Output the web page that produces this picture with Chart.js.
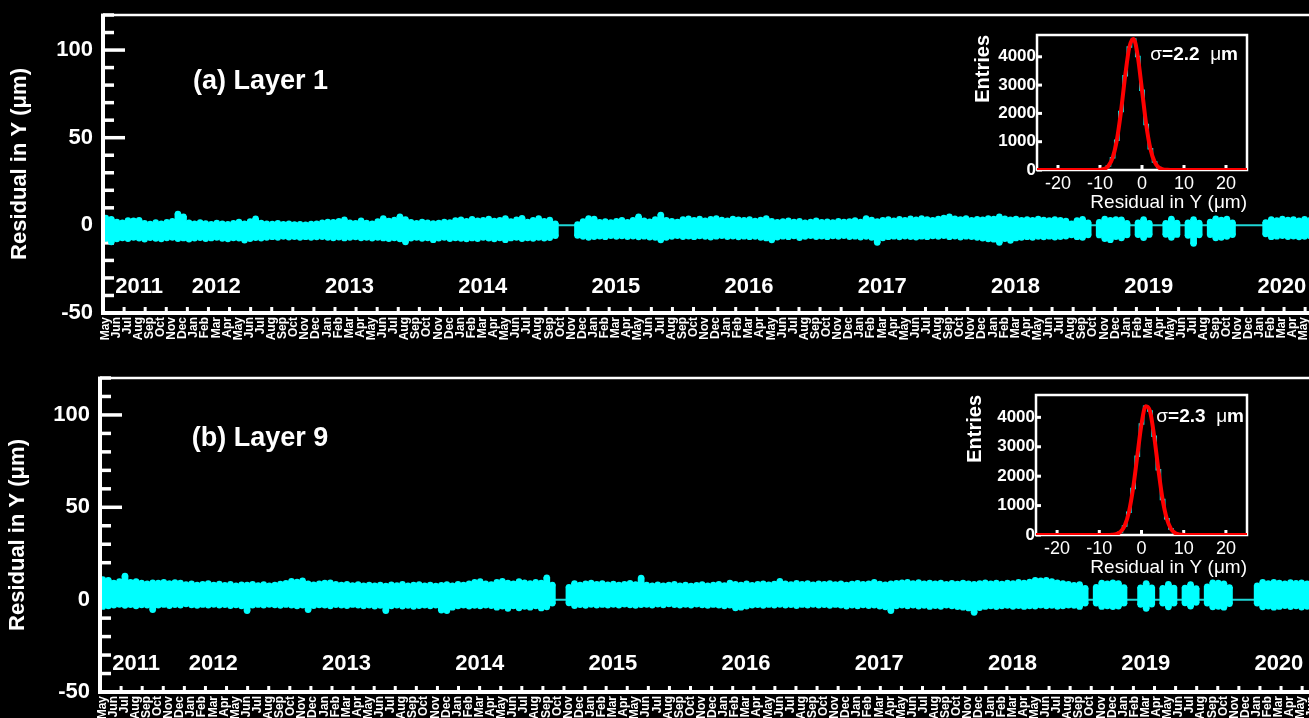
<!DOCTYPE html>
<html>
<head>
<meta charset="utf-8">
<script src="https://cdn.jsdelivr.net/npm/chart.js@4/dist/chart.umd.min.js"></script>
<style>
  html, body { margin: 0; padding: 0; background: #000; width: 1309px; height: 718px; overflow: hidden; position: relative; }
  canvas { position: absolute; }
</style>
</head>
<body>
<canvas id="mainA" width="1328" height="350" style="left:0;top:0"></canvas>
<canvas id="mainB" width="1325" height="370" style="left:0;top:363px"></canvas>
<canvas id="histA" width="300" height="200" style="left:950px;top:20px"></canvas>
<canvas id="histB" width="300" height="205" style="left:950px;top:380px"></canvas>
<script>
const FONT = "'Liberation Sans', Arial, Helvetica, sans-serif";
const CYAN = '#00ffff';

// ---- time axis: one slot per calendar month, first slot = May 2011 ----
const monthNames = ['Jan','Feb','Mar','Apr','May','Jun','Jul','Aug','Sep','Oct','Nov','Dec'];
const START_MONTH = 4;          // May
const MONTH_SLOTS = 110;
const yearLabels = ['2011','2012','2013','2014','2015','2016','2017','2018','2019','2020'];
const yearLabelMonths = [1.1, 8, 20, 32, 44, 56, 68, 80, 92, 104];
const YEAR_LABEL_LEVEL = -35;
const residualTicks = [-50, 0, 50, 100];
const ZERO_LEVEL = 0;

// ---- residual band: per half-month bin, highest and lowest residual (um) ----
const BIN_MONTHS = 0.5;
const layer1High = [
  4.2, 3.5, 2.0, 1.5, 2.8, 2.6, 2.9, 1.2, 0.8, 1.6,
  1.0, 1.8, 2.4, 6.5, 5.0, 1.5, 0.9, 1.7, 1.1, 0.6,
  1.4, 1.0, 0.7, 1.2, 1.9, 1.0, 2.2, 3.8, 1.4, 0.9,
  0.8, 1.2, 0.6, 0.9, 0.5, 0.7, 0.4, 0.8, 1.0, 1.5,
  2.0, 1.8, 2.4, 3.2, 1.5, 1.2, 2.6, 1.4, 1.0, 2.2,
  4.0, 2.5, 3.1, 5.0, 3.4, 1.8, 1.2, 2.0, 1.5, 1.1,
  1.4, 2.0, 1.6, 2.8, 3.2, 2.4, 3.5, 2.7, 3.0, 3.6,
  2.5, 3.0, 4.0, 2.2, 3.2, 4.1, 2.0, 3.0, 3.9, 2.4,
  3.1, 1.0, null, null, null, 0.5, 2.2, 4.0, 3.6, 1.8,
  2.2, 1.6, 2.4, 2.9, 1.8, 3.0, 5.0, 2.6, 2.1, 3.3,
  6.0, 3.0, 2.4, 1.9, 3.4, 3.8, 3.0, 3.6, 2.7, 3.5,
  3.9, 3.1, 2.6, 3.7, 3.2, 2.9, 3.4, 2.5, 3.1, 3.9,
  2.4, 1.8, 2.2, 2.6, 1.9, 2.3, 1.5, 2.0, 2.7, 1.8,
  2.1, 1.6, 2.4, 1.9, 2.2, 2.8, 2.0, 4.0, 3.1, 2.2,
  3.0, 3.3, 2.7, 3.5, 3.0, 3.8, 3.2, 4.0, 3.4, 3.0,
  3.6, 4.2, 5.0, 3.8, 3.3, 3.9, 3.0, 3.5, 3.2, 4.0,
  3.6, 5.0, 3.8, 3.2, 3.6, 2.9, 3.4, 3.0, 3.7, 3.1,
  2.8, 3.3, 3.0, 2.5, 1.0, 2.8, 3.5, 1.5, null, 1.8,
  3.6, 2.9, 3.4, 3.2, 1.2, null, 1.5, 3.4, 1.2, null,
  null, 1.2, 3.6, 1.4, null, 1.5, 3.3, 1.3, null, 2.0,
  3.8, 3.1, 3.6, 1.5, null, null, null, null, null, 1.6,
  3.4, 2.8, 3.6, 3.1, 3.3, 2.7, 3.5, 3.0, 3.2, 2.9
];
const layer1Low = [
  -7.5, -9.5, -7.8, -7.2, -7.6, -7.0, -7.4, -7.9, -7.1, -7.5,
  -7.8, -7.2, -7.0, -7.6, -7.3, -7.9, -7.4, -7.1, -7.7, -7.3,
  -7.0, -7.5, -7.8, -7.2, -7.4, -8.5, -7.6, -7.1, -7.4, -7.0,
  -6.6, -6.9, -6.4, -6.8, -6.5, -6.9, -6.6, -7.0, -6.7, -6.5,
  -6.9, -7.2, -6.8, -7.3, -7.0, -6.7, -7.2, -6.9, -7.4, -7.0,
  -7.3, -7.6, -7.2, -7.8, -9.5, -7.4, -7.0, -7.5, -7.2, -8.3,
  -7.4, -7.0, -7.6, -7.2, -7.5, -7.8, -7.3, -7.6, -7.0, -7.4,
  -7.8, -7.2, -8.3, -7.3, -7.0, -7.6, -7.2, -7.5, -7.0, -7.4,
  -7.1, -6.0, null, null, null, -5.8, -6.4, -6.9, -6.5, -6.2,
  -6.6, -6.0, -6.4, -6.1, -6.5, -6.2, -6.7, -6.3, -6.8, -7.0,
  -8.4, -6.9, -6.4, -6.0, -6.5, -6.2, -6.6, -6.1, -6.4, -6.8,
  -6.3, -6.0, -6.5, -6.2, -6.7, -6.3, -6.6, -6.4, -6.9, -7.3,
  -8.4, -6.8, -6.3, -6.6, -6.1, -7.1, -6.4, -6.0, -6.5, -6.2,
  -6.6, -6.1, -6.4, -6.0, -6.5, -6.3, -6.8, -6.4, -7.0, -9.8,
  -7.2, -6.6, -6.3, -6.7, -6.2, -6.5, -6.8, -6.3, -6.6, -6.1,
  -6.4, -6.0, -6.6, -6.2, -6.8, -6.3, -6.5, -6.9, -7.4, -7.8,
  -8.0, -9.8, -7.6, -8.7, -7.3, -7.0, -6.6, -6.9, -6.4, -6.7,
  -6.3, -6.8, -6.5, -6.2, -5.5, -6.6, -7.0, -5.5, null, -5.6,
  -7.6, -8.3, -6.5, -7.2, -5.5, null, -5.4, -7.1, -5.3, null,
  null, -5.2, -6.9, -5.3, null, -5.8, -10.4, -5.5, null, -5.4,
  -7.2, -6.9, -6.4, -5.4, null, null, null, null, null, -5.0,
  -6.6, -6.3, -6.0, -6.5, -6.2, -6.7, -6.4, -6.1, -6.5, -6.3
];
const layer9High = [
  11.0, 10.5, 9.0, 9.8, 12.8, 9.5, 9.8, 9.0, 8.6, 9.2,
  9.0, 9.4, 8.8, 9.3, 9.0, 8.2, 8.6, 7.9, 8.4, 8.8,
  8.0, 8.5, 7.8, 8.3, 7.6, 8.1, 7.9, 8.4, 7.7, 8.2,
  7.6, 8.0, 8.5, 8.9, 10.0, 9.6, 10.2, 8.6, 8.1, 8.7,
  9.0, 9.2, 8.4, 7.9, 8.3, 7.7, 8.2, 7.5, 8.0, 7.6,
  7.9, 7.4, 8.1, 7.7, 8.3, 7.5, 7.9, 8.2, 7.6, 8.0,
  7.4, 7.8, 8.2, 7.6, 8.4, 8.0, 8.6, 9.5, 9.8, 8.7,
  8.2, 9.4, 10.0, 9.0, 8.6, 9.8, 9.2, 8.8, 9.5, 9.0,
  11.9, 8.0, null, null, 6.8, 8.8, 8.0, 8.6, 9.0, 8.4,
  8.8, 8.1, 8.5, 7.9, 8.4, 8.9, 8.2, 11.7, 8.0, 7.6,
  8.1, 7.5, 7.9, 8.3, 7.6, 8.0, 7.4, 7.8, 8.2, 7.5,
  7.9, 8.3, 7.7, 9.0, 8.4, 8.0, 8.6, 7.8, 8.3, 8.7,
  8.1, 8.5, 10.0, 8.7, 8.2, 8.9, 8.4, 8.8, 8.1, 8.6,
  8.3, 8.8, 8.2, 8.7, 8.0, 8.5, 8.9, 8.3, 8.6, 9.4,
  8.5, 8.1, 8.6, 8.9, 9.2, 9.5, 8.8, 9.3, 8.7, 9.1,
  8.6, 9.0, 8.4, 8.9, 8.5, 9.1, 8.7, 8.3, 8.8, 9.2,
  8.6, 9.0, 8.5, 9.1, 8.8, 9.4, 9.0, 9.6, 10.5, 10.2,
  10.5, 9.8, 9.2, 8.8, 8.4, 7.8, 8.2, 6.2, null, 6.8,
  9.0, 8.6, 9.2, 8.8, 6.6, null, null, 6.5, 8.8, 6.5,
  null, 6.2, 8.3, 6.4, null, 6.4, 8.2, 6.0, null, 7.0,
  9.2, 9.0, 8.7, 6.6, null, null, null, null, 7.5, 9.4,
  8.8, 9.5, 9.1, 8.6, 9.3, 8.9, 9.2, 8.7, 9.0, 8.8
];
const layer9Low = [
  -3.8, -3.5, -3.0, -2.6, -3.2, -2.8, -3.4, -2.9, -3.1, -5.5,
  -3.0, -2.7, -3.3, -2.8, -3.1, -2.4, -2.9, -3.2, -2.7, -3.0,
  -2.6, -3.1, -2.8, -3.3, -2.9, -3.4, -6.0, -3.1, -2.7, -3.0,
  -2.6, -2.9, -3.2, -2.7, -3.0, -3.5, -3.1, -5.5, -3.3, -2.9,
  -3.1, -3.4, -2.8, -3.0, -3.3, -2.7, -3.1, -3.5, -3.0, -3.6,
  -3.2, -6.0, -3.4, -3.0, -3.6, -3.2, -3.7, -3.3, -3.0, -3.5,
  -3.1, -5.8, -6.0, -4.2, -3.4, -3.0, -3.6, -3.2, -3.5, -3.0,
  -3.3, -4.2, -3.6, -4.8, -3.4, -4.5, -3.7, -4.2, -3.5, -4.6,
  -4.0, -2.0, null, null, -1.8, -3.3, -2.8, -3.2, -2.6, -3.0,
  -2.7, -3.1, -2.6, -3.0, -2.5, -2.9, -3.2, -2.8, -2.6, -3.0,
  -2.5, -2.9, -2.4, -2.8, -3.1, -2.6, -3.0, -2.5, -2.9, -3.2,
  -2.7, -3.0, -3.4, -3.1, -4.5, -4.2, -3.6, -3.0, -2.8, -3.2,
  -2.7, -3.1, -2.6, -3.0, -2.8, -3.3, -2.7, -3.1, -2.6, -3.0,
  -2.8, -3.2, -2.7, -3.1, -3.6, -3.0, -3.4, -2.9, -3.3, -3.1,
  -3.6, -4.0, -6.0, -3.4, -3.0, -3.5, -3.1, -3.6, -3.2, -3.8,
  -3.3, -3.7, -3.1, -3.5, -3.9, -4.2, -4.6, -7.0, -4.4, -3.8,
  -3.4, -3.9, -3.5, -3.2, -3.7, -3.3, -3.8, -3.4, -3.6, -3.1,
  -3.5, -3.2, -3.7, -3.4, -3.0, -3.2, -3.8, -2.0, null, -2.0,
  -3.8, -3.5, -3.9, -3.6, -2.0, null, null, -2.6, -4.8, -2.5,
  null, -2.0, -4.0, -2.0, null, -1.8, -3.6, -1.6, null, -2.0,
  -4.0, -3.7, -4.2, -2.2, null, null, null, null, -2.0, -4.0,
  -3.6, -4.2, -3.8, -3.3, -3.9, -3.5, -4.1, -3.7, -3.4, -3.9
];

// ---- residual distributions (1 um bins) ----
const residualBins = [
  -25, -24, -23, -22, -21, -20, -19, -18, -17, -16, -15, -14, -13, -12, -11, -10, -9, -8, -7, -6, -5, -4, -3, -2, -1,
  0, 1, 2, 3, 4, 5, 6, 7, 8, 9, 10, 11, 12, 13, 14, 15, 16, 17, 18, 19, 20, 21, 22, 23, 24, 25
];
const layer1Entries = [
  0, 0, 0, 0, 0, 0, 0, 0, 0, 0, 0, 0, 0, 0, 0, 9, 39, 144, 430, 1050, 2070, 3330, 4350, 4630, 4010,
  2820, 1610, 750, 285, 88, 22, 5, 1, 0, 0, 0, 0, 0, 0, 0, 0, 0, 0, 0, 0, 0, 0, 0, 0, 0, 0
];
const layer9Entries = [
  0, 0, 0, 0, 0, 0, 0, 0, 0, 0, 0, 0, 0, 0, 0, 0, 0, 0, 7, 29, 104, 310, 770, 1580, 2680,
  3770, 4380, 4220, 3360, 2220, 1210, 550, 205, 64, 16, 4, 1, 0, 0, 0, 0, 0, 0, 0, 0, 0, 0, 0, 0, 0, 0
];
const histTicksX = [-20, -10, 0, 10, 20];
const histTicksY = [0, 1000, 2000, 3000, 4000];

Chart.defaults.font.family = FONT;
Chart.defaults.color = '#fff';

function strokeLine(ctx, x1, y1, x2, y2) {
  ctx.beginPath(); ctx.moveTo(x1, y1); ctx.lineTo(x2, y2); ctx.stroke();
}

// tick marks pointing into the plot (beneath the data), axes and in-plot labels on top
const panelTicks = {
  id: 'panelTicks',
  beforeDatasetsDraw(chart, args, opts) {
    const { ctx, chartArea: a, scales: { x, y } } = chart;
    ctx.save();
    ctx.strokeStyle = '#fff';
    ctx.lineWidth = 3.5;
    for (let v = y.min; v <= y.max + 1e-6; v += opts.yMinorStep) {
      const len = (Math.abs(v % opts.yMajorStep) < 1e-6) ? 22 : 11;
      const py = y.getPixelForValue(v);
      strokeLine(ctx, a.left, py, a.left + len, py);
    }
    ctx.lineWidth = 3;
    for (let m = x.min; m <= x.max; m += opts.xTickStep) {
      const px = x.getPixelForValue(m);
      strokeLine(ctx, px, a.bottom, px, a.bottom - 6);
    }
    ctx.restore();
  },
  afterDatasetsDraw(chart, args, opts) {
    const { ctx, chartArea: a, scales: { x, y } } = chart;
    ctx.save();
    ctx.strokeStyle = '#fff';
    ctx.fillStyle = '#fff';
    ctx.lineWidth = 2.5;
    strokeLine(ctx, a.left - 2, a.top, a.right, a.top);
    ctx.lineWidth = 4;
    strokeLine(ctx, a.left, a.top - 1.25, a.left, a.bottom + 2);
    strokeLine(ctx, a.left - 2, a.bottom, a.right, a.bottom);

    ctx.textAlign = 'left';
    ctx.textBaseline = 'middle';
    ctx.font = `bold 22px ${FONT}`;
    yearLabels.forEach((t, i) => {
      ctx.fillText(t, x.getPixelForValue(yearLabelMonths[i]), y.getPixelForValue(YEAR_LABEL_LEVEL));
    });
    ctx.font = `bold 27px ${FONT}`;
    ctx.fillText(opts.label, x.getPixelForValue(opts.labelAt[0]), y.getPixelForValue(opts.labelAt[1]));
    ctx.restore();
  }
};

function bandSeries(high, low) {
  const bars = [], tops = [], bottoms = [];
  high.forEach((h, k) => {
    const l = low[k];
    if (h === null || l === null || h === undefined || l === undefined) return;
    const x = (k + 0.5) * BIN_MONTHS;
    bars.push({ x, y: [l, h] });
    tops.push({ x, y: h });
    bottoms.push({ x, y: l });
  });
  return { bars, tops, bottoms };
}

function drawPanel(p) {
  const band = bandSeries(p.high, p.low);
  const monthTicks = [];
  for (let i = 0; i < MONTH_SLOTS; i++) monthTicks.push({ value: i + 0.2, label: monthNames[(START_MONTH + i) % 12] });

  new Chart(document.getElementById(p.canvas), {
    type: 'bar',
    data: {
      datasets: [
        { type: 'line', data: [{ x: 0, y: ZERO_LEVEL }, { x: MONTH_SLOTS, y: ZERO_LEVEL }],
          borderColor: '#1fd6d6', borderWidth: 2, pointRadius: 0, order: 3 },
        { type: 'bar', data: band.bars, backgroundColor: CYAN, borderWidth: 0,
          barPercentage: 1, categoryPercentage: 1, inflateAmount: 0.6, order: 2 },
        { type: 'scatter', data: band.tops, pointRadius: 3.2, pointBackgroundColor: CYAN,
          pointBorderWidth: 0, order: 1 },
        { type: 'scatter', data: band.bottoms, pointRadius: 3.2, pointBackgroundColor: CYAN,
          pointBorderWidth: 0, order: 1 }
      ]
    },
    options: {
      responsive: false,
      animation: false,
      events: [],
      layout: { padding: { top: 15, left: 0, right: 0, bottom: 0 } },
      plugins: {
        legend: { display: false },
        tooltip: { enabled: false },
        panelTicks: { yMinorStep: 10, yMajorStep: 50, xTickStep: 1.9, label: p.label, labelAt: p.labelAt }
      },
      scales: {
        x: {
          type: 'linear', min: 0, max: MONTH_SLOTS, offset: false,
          grid: { display: false, drawTicks: false },
          border: { display: false },
          afterBuildTicks: s => { s.ticks = monthTicks.map(t => ({ value: t.value })); },
          ticks: {
            autoSkip: false, maxRotation: 90, minRotation: 90, padding: 4,
            color: '#fff', font: { size: 12, weight: 'bold' },
            callback: (v, i) => monthTicks[i] ? monthTicks[i].label : ''
          },
          afterFit: s => { s.height = p.xAxisHeight; s.paddingLeft = 0; s.paddingRight = 0; }
        },
        y: {
          type: 'linear', min: -50, max: 120,
          grid: { display: false, drawTicks: false },
          border: { display: false },
          afterBuildTicks: s => { s.ticks = residualTicks.map(v => ({ value: v })); },
          ticks: { padding: 10, color: '#fff', font: { size: 22, weight: 'bold' }, callback: v => String(v) },
          title: { display: true, text: 'Residual in Y (μm)', color: '#fff',
                   font: { size: 22, weight: 'bold' }, padding: { top: p.titlePad, bottom: 0 } },
          afterFit: s => { s.width = p.yAxisWidth; s.paddingTop = 0; s.paddingBottom = 0; }
        }
      }
    },
    plugins: [panelTicks]
  });
}

// inset histogram frame, inward ticks and width annotation
const insetFrame = {
  id: 'insetFrame',
  beforeDatasetsDraw(chart) {
    const { ctx, chartArea: a, scales: { x, y } } = chart;
    ctx.save();
    ctx.fillStyle = '#000';
    ctx.fillRect(a.left, a.top, a.right - a.left, a.bottom - a.top);
    ctx.strokeStyle = '#fff';
    ctx.lineWidth = 2.5;
    ctx.strokeRect(a.left, a.top, a.right - a.left, a.bottom - a.top);
    ctx.lineWidth = 3;
    x.ticks.forEach(t => { const px = x.getPixelForValue(t.value); strokeLine(ctx, px, a.bottom, px, a.bottom - 5); });
    y.ticks.forEach(t => { const py = y.getPixelForValue(t.value); strokeLine(ctx, a.left, py, a.left + 5, py); });
    ctx.restore();
  },
  afterDatasetsDraw(chart, args, opts) {
    const { ctx, chartArea: a } = chart;
    const parts = [
      { t: 'σ', f: `19px ${FONT}` },
      { t: '=' + opts.sigma, f: `bold 19px ${FONT}` },
      { t: '  ', f: `19px ${FONT}` },
      { t: 'μ', f: `19px ${FONT}` },
      { t: 'm', f: `bold 19px ${FONT}` }
    ];
    ctx.save();
    ctx.fillStyle = '#fff';
    ctx.textBaseline = 'middle';
    ctx.textAlign = 'left';
    let total = 0;
    parts.forEach(pt => { ctx.font = pt.f; pt.w = ctx.measureText(pt.t).width; total += pt.w; });
    let cx = a.right - opts.rightGap - total;
    const cy = a.top + opts.topGap;
    parts.forEach(pt => { ctx.font = pt.f; ctx.fillText(pt.t, cx, cy); cx += pt.w; });
    ctx.restore();
  }
};

function drawInset(h) {
  const points = residualBins.map((b, i) => ({ x: b, y: h.entries[i] }));
  new Chart(document.getElementById(h.canvas), {
    type: 'line',
    data: {
      datasets: [
        { data: points, borderColor: CYAN, borderWidth: 1.5, stepped: 'middle', pointRadius: 0, order: 2 },
        { data: points, borderColor: '#ff0000', borderWidth: 4, cubicInterpolationMode: 'monotone',
          pointRadius: 0, order: 1 }
      ]
    },
    options: {
      responsive: false,
      animation: false,
      events: [],
      layout: { padding: { top: 15, right: 3, left: 0, bottom: 0 } },
      plugins: {
        legend: { display: false },
        tooltip: { enabled: false },
        insetFrame: { sigma: h.sigma, rightGap: h.rightGap, topGap: h.topGap }
      },
      scales: {
        x: {
          type: 'linear', min: -25, max: 25,
          grid: { display: false, drawTicks: false },
          border: { display: false },
          afterBuildTicks: s => { s.ticks = histTicksX.map(v => ({ value: v })); },
          ticks: { padding: 3, color: '#fff', maxRotation: 0, font: { size: 18 }, callback: v => String(v) },
          title: { display: true, text: 'Residual in Y (μm)', align: 'end', color: '#fff',
                   font: { size: 19 }, padding: { top: 0, bottom: 5.6 } },
          afterFit: s => { s.height = 50; s.paddingLeft = 0; s.paddingRight = 0; }
        },
        y: {
          type: 'linear', min: 0, max: h.yMax,
          grid: { display: false, drawTicks: false },
          border: { display: false },
          afterBuildTicks: s => { s.ticks = histTicksY.map(v => ({ value: v })); },
          ticks: { padding: 1, color: '#fff', font: { size: 17, weight: 'bold' }, callback: v => String(v) },
          title: { display: true, text: 'Entries', align: 'end', color: '#fff',
                   font: { size: 20, weight: 'bold' }, padding: { top: h.titlePad, bottom: 0 } },
          afterFit: s => { s.width = h.yAxisWidth; s.paddingTop = 0; s.paddingBottom = 0; }
        }
      }
    },
    plugins: [insetFrame]
  });
}

drawPanel({ canvas: 'mainA', label: '(a) Layer 1', labelAt: [8.1, 81.8],
            high: layer1High, low: layer1Low, yAxisWidth: 103, xAxisHeight: 37, titlePad: 6.8 });
drawPanel({ canvas: 'mainB', label: '(b) Layer 9', labelAt: [8.26, 87],
            high: layer9High, low: layer9Low, yAxisWidth: 100, xAxisHeight: 41, titlePad: 4.3 });
drawInset({ canvas: 'histA', entries: layer1Entries, yMax: 4770, sigma: '2.2',
            yAxisWidth: 87, titlePad: 21, rightGap: 9, topGap: 20 });
drawInset({ canvas: 'histB', entries: layer9Entries, yMax: 4760, sigma: '2.3',
            yAxisWidth: 86, titlePad: 13, rightGap: 3, topGap: 21.7 });
</script>
</body>
</html>
